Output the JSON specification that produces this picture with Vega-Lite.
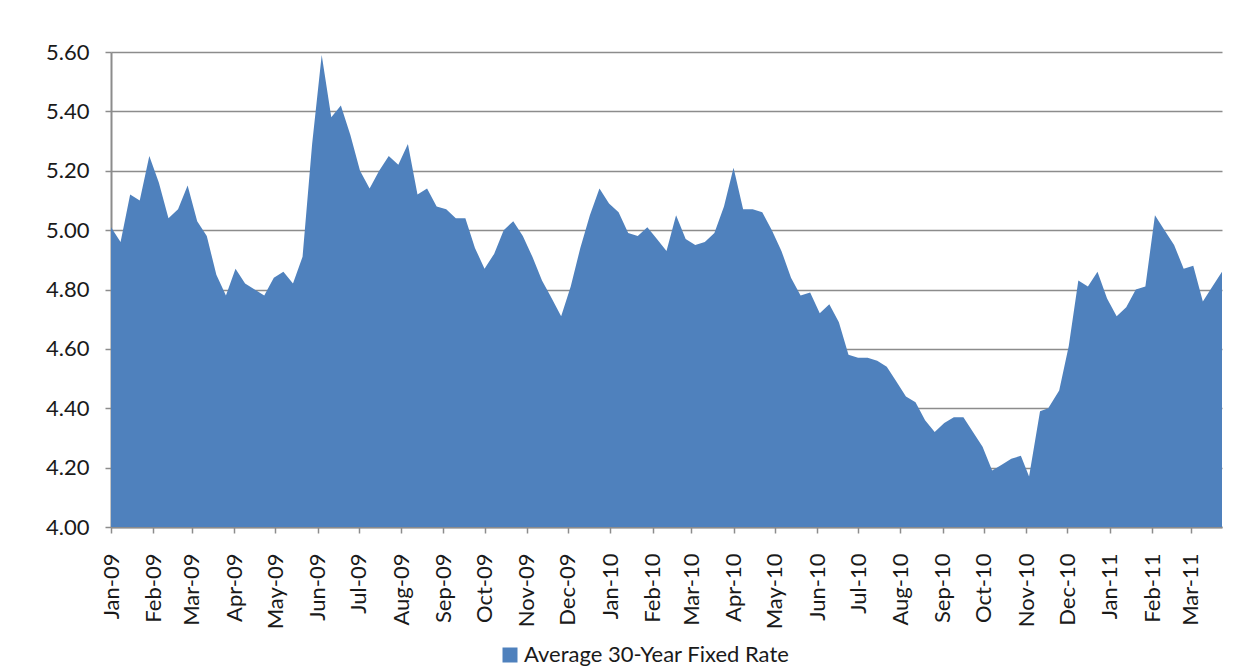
{
  "$schema": "https://vega.github.io/schema/vega-lite/v6.json",
  "width": 1111,
  "height": 475,
  "autosize": "none",
  "padding": {"left": 111, "top": 52, "right": 18, "bottom": 144},
  "background": "white",
  "config": {
    "view": {"stroke": null},
    "font": "Lato",
    "axis": {"labelFont": "Lato", "labelColor": "#1a1a1a", "domainColor": "#8c8c8c", "tickColor": "#8c8c8c", "gridColor": "#8c8c8c"},
    "legend": {"labelFont": "Lato"}
  },
  "data": {
    "values": [
      {"date": "2009-01-08", "rate": 5.01}, {"date": "2009-01-15", "rate": 4.96}, {"date": "2009-01-22", "rate": 5.12}, {"date": "2009-01-29", "rate": 5.10},
      {"date": "2009-02-05", "rate": 5.25}, {"date": "2009-02-12", "rate": 5.16}, {"date": "2009-02-19", "rate": 5.04}, {"date": "2009-02-26", "rate": 5.07},
      {"date": "2009-03-05", "rate": 5.15}, {"date": "2009-03-12", "rate": 5.03}, {"date": "2009-03-19", "rate": 4.98}, {"date": "2009-03-26", "rate": 4.85},
      {"date": "2009-04-02", "rate": 4.78}, {"date": "2009-04-09", "rate": 4.87}, {"date": "2009-04-16", "rate": 4.82}, {"date": "2009-04-23", "rate": 4.80}, {"date": "2009-04-30", "rate": 4.78},
      {"date": "2009-05-07", "rate": 4.84}, {"date": "2009-05-14", "rate": 4.86}, {"date": "2009-05-21", "rate": 4.82}, {"date": "2009-05-28", "rate": 4.91},
      {"date": "2009-06-04", "rate": 5.29}, {"date": "2009-06-11", "rate": 5.59}, {"date": "2009-06-18", "rate": 5.38}, {"date": "2009-06-25", "rate": 5.42},
      {"date": "2009-07-02", "rate": 5.32}, {"date": "2009-07-09", "rate": 5.20}, {"date": "2009-07-16", "rate": 5.14}, {"date": "2009-07-23", "rate": 5.20}, {"date": "2009-07-30", "rate": 5.25},
      {"date": "2009-08-06", "rate": 5.22}, {"date": "2009-08-13", "rate": 5.29}, {"date": "2009-08-20", "rate": 5.12}, {"date": "2009-08-27", "rate": 5.14},
      {"date": "2009-09-03", "rate": 5.08}, {"date": "2009-09-10", "rate": 5.07}, {"date": "2009-09-17", "rate": 5.04}, {"date": "2009-09-24", "rate": 5.04},
      {"date": "2009-10-01", "rate": 4.94}, {"date": "2009-10-08", "rate": 4.87}, {"date": "2009-10-15", "rate": 4.92}, {"date": "2009-10-22", "rate": 5.00}, {"date": "2009-10-29", "rate": 5.03},
      {"date": "2009-11-05", "rate": 4.98}, {"date": "2009-11-12", "rate": 4.91}, {"date": "2009-11-19", "rate": 4.83}, {"date": "2009-11-25", "rate": 4.78},
      {"date": "2009-12-03", "rate": 4.71}, {"date": "2009-12-10", "rate": 4.81}, {"date": "2009-12-17", "rate": 4.94}, {"date": "2009-12-24", "rate": 5.05}, {"date": "2009-12-31", "rate": 5.14},
      {"date": "2010-01-07", "rate": 5.09}, {"date": "2010-01-14", "rate": 5.06}, {"date": "2010-01-21", "rate": 4.99}, {"date": "2010-01-28", "rate": 4.98},
      {"date": "2010-02-04", "rate": 5.01}, {"date": "2010-02-11", "rate": 4.97}, {"date": "2010-02-18", "rate": 4.93}, {"date": "2010-02-25", "rate": 5.05},
      {"date": "2010-03-04", "rate": 4.97}, {"date": "2010-03-11", "rate": 4.95}, {"date": "2010-03-18", "rate": 4.96}, {"date": "2010-03-25", "rate": 4.99},
      {"date": "2010-04-01", "rate": 5.08}, {"date": "2010-04-08", "rate": 5.21}, {"date": "2010-04-15", "rate": 5.07}, {"date": "2010-04-22", "rate": 5.07}, {"date": "2010-04-29", "rate": 5.06},
      {"date": "2010-05-06", "rate": 5.00}, {"date": "2010-05-13", "rate": 4.93}, {"date": "2010-05-20", "rate": 4.84}, {"date": "2010-05-27", "rate": 4.78},
      {"date": "2010-06-03", "rate": 4.79}, {"date": "2010-06-10", "rate": 4.72}, {"date": "2010-06-17", "rate": 4.75}, {"date": "2010-06-24", "rate": 4.69},
      {"date": "2010-07-01", "rate": 4.58}, {"date": "2010-07-08", "rate": 4.57}, {"date": "2010-07-15", "rate": 4.57}, {"date": "2010-07-22", "rate": 4.56}, {"date": "2010-07-29", "rate": 4.54},
      {"date": "2010-08-05", "rate": 4.49}, {"date": "2010-08-12", "rate": 4.44}, {"date": "2010-08-19", "rate": 4.42}, {"date": "2010-08-26", "rate": 4.36},
      {"date": "2010-09-02", "rate": 4.32}, {"date": "2010-09-09", "rate": 4.35}, {"date": "2010-09-16", "rate": 4.37}, {"date": "2010-09-23", "rate": 4.37}, {"date": "2010-09-30", "rate": 4.32},
      {"date": "2010-10-07", "rate": 4.27}, {"date": "2010-10-14", "rate": 4.19}, {"date": "2010-10-21", "rate": 4.21}, {"date": "2010-10-28", "rate": 4.23},
      {"date": "2010-11-04", "rate": 4.24}, {"date": "2010-11-10", "rate": 4.17}, {"date": "2010-11-18", "rate": 4.39}, {"date": "2010-11-24", "rate": 4.40},
      {"date": "2010-12-02", "rate": 4.46}, {"date": "2010-12-09", "rate": 4.61}, {"date": "2010-12-16", "rate": 4.83}, {"date": "2010-12-23", "rate": 4.81}, {"date": "2010-12-30", "rate": 4.86},
      {"date": "2011-01-06", "rate": 4.77}, {"date": "2011-01-13", "rate": 4.71}, {"date": "2011-01-20", "rate": 4.74}, {"date": "2011-01-27", "rate": 4.80},
      {"date": "2011-02-03", "rate": 4.81}, {"date": "2011-02-10", "rate": 5.05}, {"date": "2011-02-17", "rate": 5.00}, {"date": "2011-02-24", "rate": 4.95},
      {"date": "2011-03-03", "rate": 4.87}, {"date": "2011-03-10", "rate": 4.88}, {"date": "2011-03-17", "rate": 4.76}, {"date": "2011-03-24", "rate": 4.81}, {"date": "2011-03-31", "rate": 4.86}
    ]
  },
  "mark": {"type": "area", "interpolate": "linear", "clip": true},
  "encoding": {
    "x": {
      "field": "date",
      "type": "temporal",
      "scale": {"domain": [{"year": 2009, "month": 1, "date": 8}, {"year": 2011, "month": 3, "date": 31}]},
      "axis": {
        "title": null,
        "format": "%b-%y",
        "labelAngle": -90,
        "labelFontSize": 22,
        "labelPadding": 20,
        "tickSize": 6,
        "tickWidth": 1.5,
        "domainWidth": 2,
        "grid": false,
        "labelOverlap": false,
        "labelFlush": false,
        "values": [
          {"year": 2009, "month": 1, "date": 8}, {"year": 2009, "month": 2, "date": 8}, {"year": 2009, "month": 3, "date": 8}, {"year": 2009, "month": 4, "date": 8},
          {"year": 2009, "month": 5, "date": 8}, {"year": 2009, "month": 6, "date": 8}, {"year": 2009, "month": 7, "date": 8}, {"year": 2009, "month": 8, "date": 8},
          {"year": 2009, "month": 9, "date": 8}, {"year": 2009, "month": 10, "date": 8}, {"year": 2009, "month": 11, "date": 8}, {"year": 2009, "month": 12, "date": 8},
          {"year": 2010, "month": 1, "date": 8}, {"year": 2010, "month": 2, "date": 8}, {"year": 2010, "month": 3, "date": 8}, {"year": 2010, "month": 4, "date": 8},
          {"year": 2010, "month": 5, "date": 8}, {"year": 2010, "month": 6, "date": 8}, {"year": 2010, "month": 7, "date": 8}, {"year": 2010, "month": 8, "date": 8},
          {"year": 2010, "month": 9, "date": 8}, {"year": 2010, "month": 10, "date": 8}, {"year": 2010, "month": 11, "date": 8}, {"year": 2010, "month": 12, "date": 8},
          {"year": 2011, "month": 1, "date": 8}, {"year": 2011, "month": 2, "date": 8}, {"year": 2011, "month": 3, "date": 8}
        ]
      }
    },
    "y": {
      "field": "rate",
      "type": "quantitative",
      "scale": {"domain": [4.0, 5.6], "zero": false, "nice": false},
      "axis": {
        "title": null,
        "values": [4.0, 4.2, 4.4, 4.6, 4.8, 5.0, 5.2, 5.4, 5.6],
        "format": ".2f",
        "labelFontSize": 22,
        "labelPadding": 16,
        "tickSize": 6,
        "tickWidth": 1.5,
        "domainWidth": 2,
        "grid": true,
        "gridWidth": 1.6
      }
    },
    "y2": {"datum": 4.0},
    "color": {
      "datum": "Average 30-Year Fixed Rate",
      "type": "nominal",
      "scale": {"range": ["#4F81BD"]},
      "legend": {
        "title": null,
        "orient": "none",
        "legendX": 388,
        "legendY": 592,
        "symbolType": "square",
        "symbolSize": 225,
        "symbolStrokeWidth": 0,
        "labelFontSize": 22,
        "labelLimit": 0,
        "labelColor": "#1a1a1a",
        "labelOffset": 3,
        "padding": 0
      }
    }
  }
}
